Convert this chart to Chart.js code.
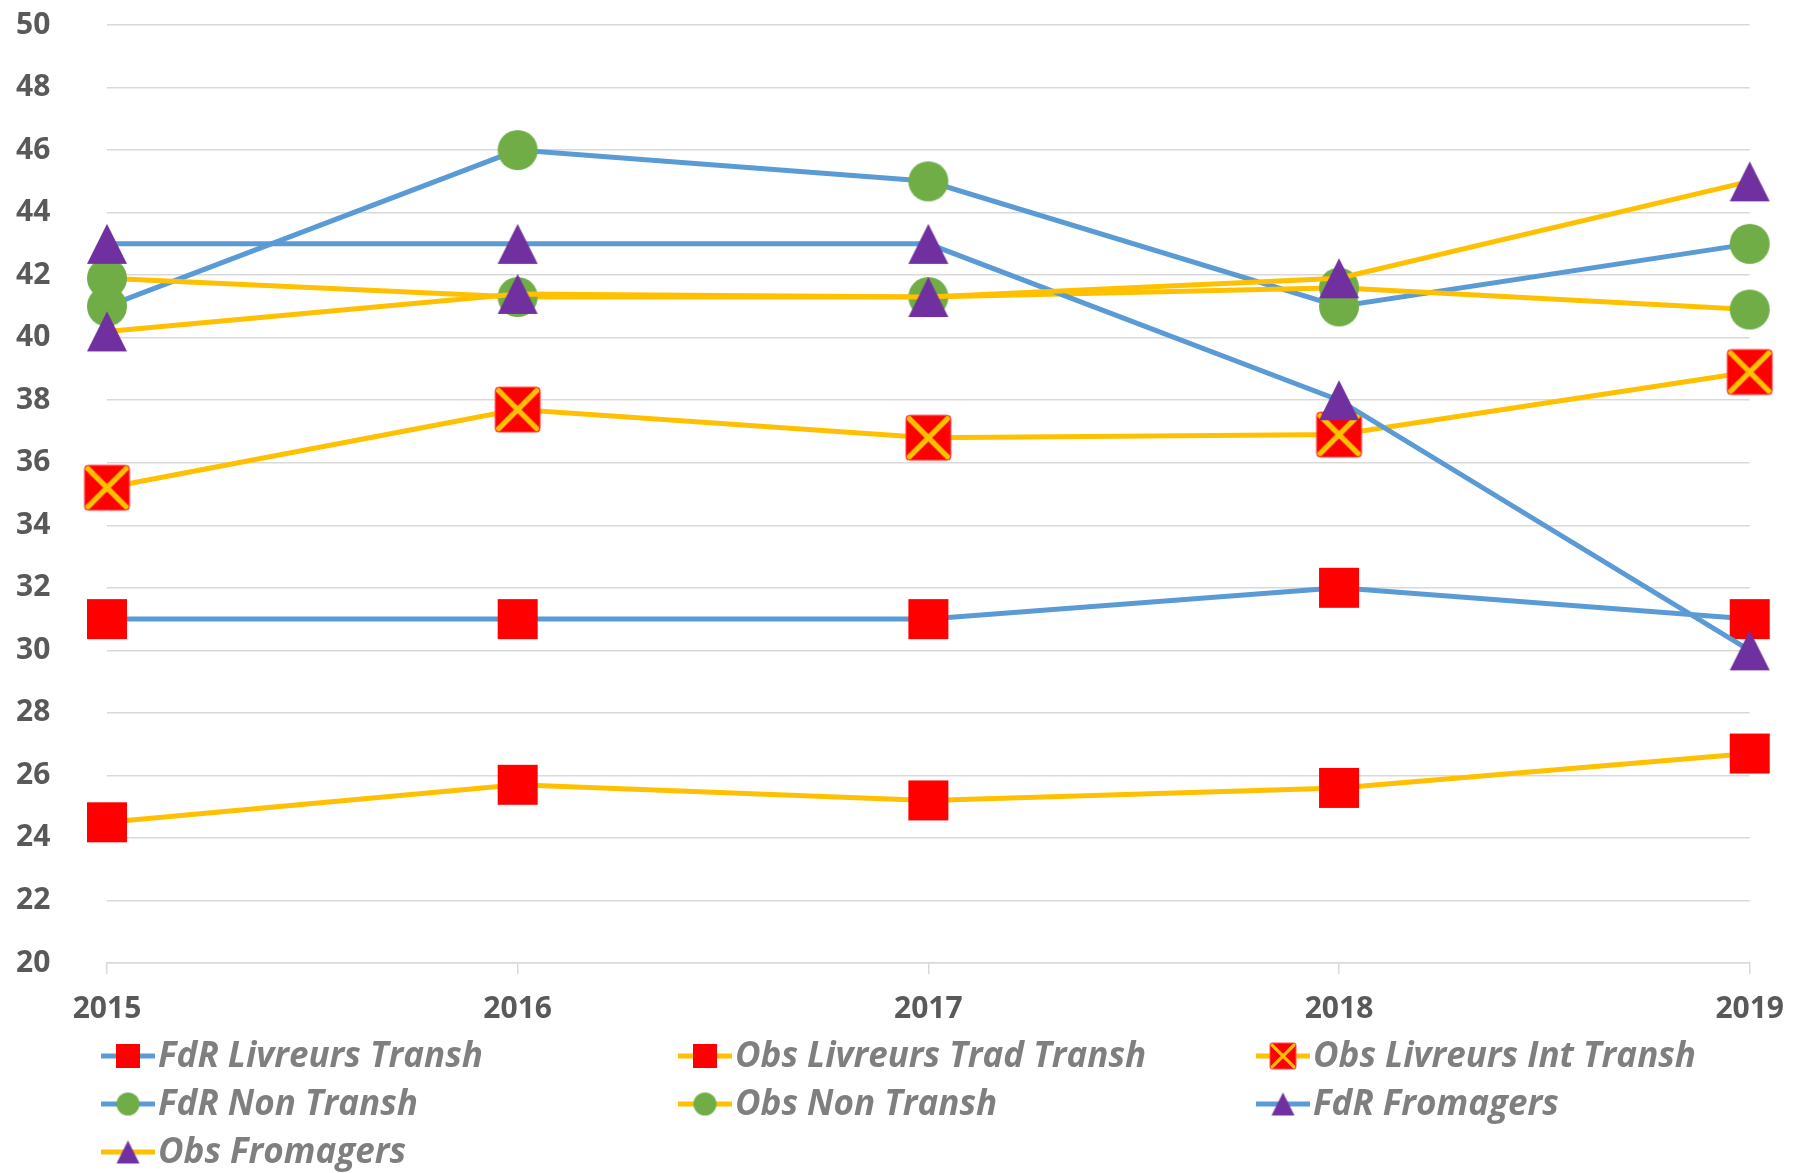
<!DOCTYPE html>
<html>
<head>
<meta charset="utf-8">
<script src="https://cdn.jsdelivr.net/npm/chart.js@4.4.0/dist/chart.umd.min.js"></script>
<style>
  body { margin: 0; background: #fff; }
  #wrap { width: 1801px; height: 1173px; }
</style>
</head>
<body>
<div id="wrap"><canvas id="myChart"></canvas></div>
<script>
const ctx = document.getElementById("myChart");

// data
const years = ["2015", "2016", "2017", "2018", "2019"];
const fdrLivreursTransh = [31, 31, 31, 32, 31];
const obsLivreursTradTransh = [24.5, 25.7, 25.2, 25.6, 26.7];
const obsLivreursIntTransh = [35.2, 37.7, 36.8, 36.9, 38.9];
const fdrNonTransh = [41, 46, 45, 41, 43];
const obsNonTransh = [41.9, 41.3, 41.3, 41.6, 40.9];
const fdrFromagers = [43, 43, 43, 38, 30];
const obsFromagers = [40.2, 41.4, 41.3, 41.9, 45];
const yMin = 20;
const yMax = 50;
const yStep = 2;

const blue = "#5B9BD5";
const yellow = "#FFC000";
const red = "#FF0000";
const green = "#70AD47";
const purple = "#7030A0";

const fontFamily = "'Open Sans', Lato, sans-serif";

function makeMarker(kind, size) {
  let cv = document.createElement("canvas");
  let pad = 2;
  cv.width = size + pad * 2;
  cv.height = size + pad * 2;
  let c = cv.getContext("2d");
  c.translate(pad, pad);
  if (kind == "square") {
    c.fillStyle = red;
    c.fillRect(0, 0, size, size);
  } else if (kind == "cross") {
    let r = size * 0.08;
    c.fillStyle = red;
    c.strokeStyle = "#FF5050";
    c.lineWidth = 1;
    c.beginPath();
    c.roundRect(0, 0, size, size, r);
    c.fill();
    c.stroke();
    c.strokeStyle = yellow;
    c.lineWidth = size * 0.12;
    c.lineCap = "round";
    let i = size * 0.08;
    c.beginPath();
    c.moveTo(i, i); c.lineTo(size - i, size - i);
    c.moveTo(size - i, i); c.lineTo(i, size - i);
    c.stroke();
  } else if (kind == "circle") {
    c.fillStyle = green;
    c.beginPath();
    c.arc(size / 2, size / 2, size / 2, 0, Math.PI * 2);
    c.fill();
  } else if (kind == "triangle") {
    c.fillStyle = purple;
    c.beginPath();
    c.moveTo(size / 2, 0);
    c.lineTo(size, size);
    c.lineTo(0, size);
    c.closePath();
    c.fill();
  }
  return cv;
}

function makeDataset(label, values, lineColor, kind, bigSize, smallSize, order) {
  return {
    label: label,
    data: values,
    borderColor: lineColor,
    backgroundColor: lineColor,
    borderWidth: 5,
    pointStyle: makeMarker(kind, bigSize),
    legendMarker: makeMarker(kind, smallSize),
    pointRadius: 20,
    pointHoverRadius: 20,
    tension: 0,
    order: order
  };
}

let datasets = [
  makeDataset("FdR Livreurs Transh", fdrLivreursTransh, blue, "square", 40, 24, 7),
  makeDataset("Obs Livreurs Trad Transh", obsLivreursTradTransh, yellow, "square", 40, 24, 6),
  makeDataset("Obs Livreurs Int Transh", obsLivreursIntTransh, yellow, "cross", 45, 26, 5),
  makeDataset("FdR Non Transh", fdrNonTransh, blue, "circle", 40, 23, 4),
  makeDataset("Obs Non Transh", obsNonTransh, yellow, "circle", 40, 23, 3),
  makeDataset("FdR Fromagers", fdrFromagers, blue, "triangle", 40, 23, 2),
  makeDataset("Obs Fromagers", obsFromagers, yellow, "triangle", 40, 23, 1)
];

// legend drawn in three columns like the original
const legendCols = [128, 705, 1283];
const legendRows = [1056, 1104, 1152];

const columnLegend = {
  id: "columnLegend",
  afterDraw(chart) {
    let c = chart.ctx;
    chart.data.datasets.forEach((ds, i) => {
      let x = legendCols[i % 3];
      let y = legendRows[Math.floor(i / 3)];
      c.save();
      c.strokeStyle = ds.borderColor;
      c.lineWidth = 5;
      c.beginPath();
      c.moveTo(x - 27, y);
      c.lineTo(x + 27, y);
      c.stroke();
      let m = ds.legendMarker;
      c.drawImage(m, x - m.width / 2, y - m.height / 2);
      c.fillStyle = "#7F7F7F";
      c.font = "italic bold 35px " + fontFamily;
      c.textBaseline = "middle";
      c.fillText(ds.label, x + 30, y + 1);
      c.restore();
    });
  }
};

let config = {
  type: "line",
  data: {
    labels: years,
    datasets: datasets
  },
  options: {
    responsive: true,
    maintainAspectRatio: false,
    animation: false,
    events: [],
    layout: {
      padding: { top: 23, right: 51, bottom: 150, left: 16 }
    },
    scales: {
      x: {
        afterFit: (scale) => { scale.height = 60; },
        grid: {
          drawOnChartArea: false,
          drawTicks: true,
          tickLength: 11,
          color: "#D9D9D9",
          lineWidth: 1.5
        },
        border: { color: "#D9D9D9", width: 1.5 },
        ticks: {
          color: "#595959",
          padding: 17,
          maxRotation: 0,
          font: { family: fontFamily, size: 30, weight: "bold" }
        }
      },
      y: {
        min: yMin,
        max: yMax,
        afterFit: (scale) => { scale.width = 91; },
        grid: {
          color: "#D9D9D9",
          lineWidth: 1.5,
          drawTicks: false
        },
        border: { display: false },
        ticks: {
          stepSize: yStep,
          color: "#595959",
          padding: 0,
          crossAlign: "far",
          font: { family: fontFamily, size: 30, weight: "bold" }
        }
      }
    },
    plugins: {
      legend: { display: false },
      tooltip: { enabled: false }
    }
  },
  plugins: [columnLegend]
};

let chart = new Chart(ctx, config);
</script>
</body>
</html>
